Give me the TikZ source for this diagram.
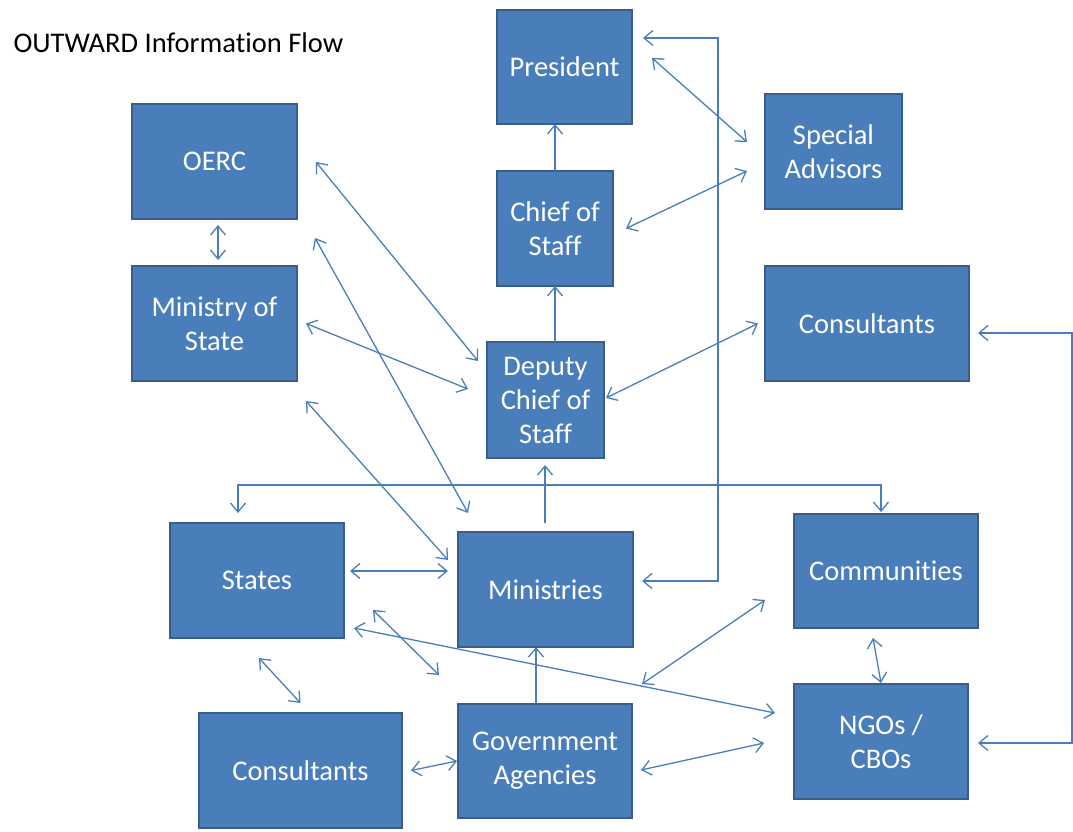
\documentclass[tikz,border=0pt]{standalone}
\usepackage{fontspec}
\setmainfont{Carlito}[Ligatures={NoCommon}]
\usetikzlibrary{arrows.meta}
\definecolor{boxfill}{HTML}{4A7EBB}
\definecolor{boxline}{HTML}{385D8A}
\definecolor{linkcol}{HTML}{4A7EBB}
\begin{document}
\begin{tikzpicture}[x=1pt,y=-1pt,
  box/.style={draw=boxline,line width=2.8pt,fill=boxfill,text=white,
    align=center,inner sep=0pt,outer sep=0pt,
    font=\fontsize{28.5}{34}\selectfont},
  link/.style={draw=linkcol,line width=1.3pt,
    >={Straight Barb[length=9pt,width=15pt]}},
  uni/.style={link,->},
  bi/.style={link,<->}]
\useasboundingbox (0,0) rectangle (1073,832);
\node[anchor=base west,font=\fontsize{28.5}{32}\selectfont] (title) at (10,53) {OUTWARD Information Flow};
% boxes
\node[box,minimum width=135pt,minimum height=114pt] (pres) at (564.5,67) {President};
\node[box,minimum width=137pt,minimum height=115pt] (sa) at (833.5,151.5) {Special\\Advisors};
\node[box,minimum width=165pt,minimum height=115pt] (oerc) at (214.5,161.5) {OERC};
\node[box,minimum width=116pt,minimum height=115pt] (cos) at (555,228.5) {Chief of\\Staff};
\node[box,minimum width=165pt,minimum height=115pt] (mos) at (214.5,323.5) {Ministry of\\State};
\node[box,minimum width=204pt,minimum height=115pt] (consA) at (867,323.5) {Consultants};
\node[box,minimum width=117pt,minimum height=116pt] (dcos) at (545.5,400) {Deputy\\Chief of\\Staff};
\node[box,minimum width=174pt,minimum height=115pt] (states) at (257,580.5) {States};
\node[box,minimum width=175pt,minimum height=115pt] (min) at (545.5,589.5) {Ministries};
\node[box,minimum width=184pt,minimum height=114pt] (comm) at (886,571) {Communities};
\node[box,minimum width=203pt,minimum height=115pt] (consB) at (300.5,770.5) {Consultants};
\node[box,minimum width=174pt,minimum height=114pt] (gov) at (545,761) {Government\\Agencies};
\node[box,minimum width=174pt,minimum height=115pt] (ngo) at (881,741.5) {NGOs /\\CBOs};
\coordinate (hub) at (545,485);
% connectors
\draw[bi] ([shift={(3.5,6)}]oerc.south) -- ([shift={(3.5,-6)}]mos.north);
\draw[uni] (cos.north) -- (cos.north |- pres.south);
\draw[uni] ([xshift=9.5pt]dcos.north) -- ([xshift=9.5pt]dcos.north |- cos.south);
\draw[bi] ([shift={(20,-9)}]pres.east) -- ([shift={(-18,-9.5)}]sa.west);
\draw[bi] ([shift={(13,0)}]cos.east) -- ([shift={(-18,19.5)}]sa.west);
\draw[bi] ([shift={(2,-2)}]dcos.east) -- ([shift={(-7,0)}]consA.west);
\draw[bi] ([shift={(19,0.5)}]oerc.east) -- ([shift={(-9,-39)}]dcos.west);
\draw[bi] ([shift={(9,0)}]mos.east) -- ([shift={(-19,-11)}]dcos.west);
\draw[bi] ([shift={(18,-28)}]mos.north east) -- ([shift={(10,-19)}]min.north west);
\draw[bi] ([shift={(9,20)}]mos.south east) -- ([shift={(-10,-29.5)}]min.west);
\draw[uni] ([shift={(-0.5,-9)}]min.north) -- ([shift={(-0.5,7)}]dcos.south);
\draw[uni] (hub) -| ([shift={(-19,-10)}]states.north);
\draw[uni] (hub) -| ([shift={(-5,-2)}]comm.north);
\draw[bi] ([shift={(9,-8.5)}]min.east) -- ++(76,0) |- ([shift={(11,-29)}]pres.east);
\draw[bi] ([shift={(9,9.5)}]consA.east) -- ++(94,0) |- ([shift={(10,1.5)}]ngo.east);
\draw[bi] ([shift={(6,-9.5)}]states.east) -- ([shift={(-10,-18.5)}]min.west);
\draw[bi] ([shift={(10,-10)}]states.south east) -- ([shift={(-19,-28.5)}]ngo.west);
\draw[bi] ([shift={(29,29.5)}]states.east) -- ([shift={(-19,-29)}]gov.north west);
\draw[bi] ([shift={(2,20)}]states.south) -- ([shift={(0,-10)}]consB.north);
\draw[bi] ([shift={(9,0)}]consB.east) -- ([shift={(-1,0)}]gov.west);
\draw[uni] ([xshift=-9pt]gov.north) -- ([xshift=-9pt]gov.north |- min.south);
\draw[bi] ([shift={(9,9)}]gov.east) -- ([shift={(-30,1.5)}]ngo.west);
\draw[bi] ([shift={(-29,29)}]comm.west) -- ([shift={(10,-20)}]gov.north east);
\draw[bi] ([shift={(-13,10)}]comm.south) -- ([shift={(0,-1)}]ngo.north);
\end{tikzpicture}
\end{document}
